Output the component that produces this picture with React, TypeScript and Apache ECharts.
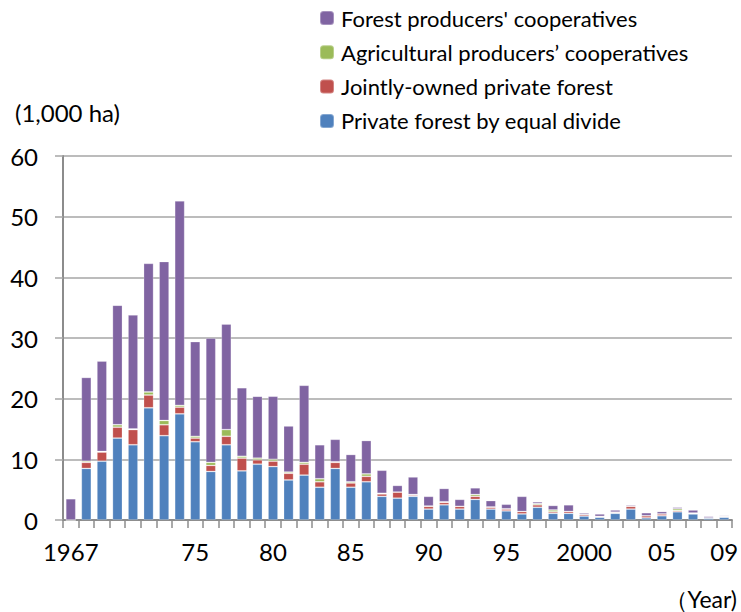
import React, { useEffect, useRef } from "react";
import * as echarts from "echarts";

const years = [
  "1967","1968","1969","1970","1971","1972","1973","1974","1975","1976",
  "1977","1978","1979","1980","1981","1982","1983","1984","1985","1986",
  "1987","1988","1989","1990","1991","1992","1993","1994","1995","1996",
  "1997","1998","1999","2000","2001","2002","2003","2004","2005","2006",
  "2007","2008","2009",
];

const labelYears = ["1967","1975","1980","1985","1990","1995","2000","2005","2009"];
const tickLabels = ["1967","75","80","85","90","95","2000","05","09"];

const privateEqual = [
  0, 8.5, 9.7, 13.5, 12.4, 18.5, 13.9, 17.5, 12.9, 8.0,
  12.4, 8.1, 9.2, 8.8, 6.6, 7.4, 5.4, 8.5, 5.4, 6.3,
  3.9, 3.6, 3.9, 1.8, 2.5, 1.8, 3.4, 1.8, 1.5, 1.0,
  2.1, 1.1, 1.1, 0.65, 0.45, 1.1, 1.8, 0.35, 0.7, 1.35,
  1.0, 0.3, 0.45,
];
const jointlyOwned = [
  0, 1.0, 1.5, 1.8, 2.5, 2.1, 1.8, 1.1, 0.6, 1.0,
  1.4, 2.1, 0.7, 0.9, 1.1, 1.8, 0.9, 1.0, 0.7, 0.9,
  0.4, 1.0, 0.2, 0.45, 0.4, 0.45, 0.5, 0.3, 0.3, 0.4,
  0.4, 0.25, 0.3, 0.25, 0.15, 0.15, 0.45, 0.35, 0.3, 0.2,
  0.1, 0.05, 0.15,
];
const agricultural = [
  0, 0.2, 0.1, 0.4, 0.1, 0.5, 0.7, 0.3, 0.3, 0.5,
  1.1, 0.3, 0.3, 0.3, 0.2, 0.3, 0.5, 0.1, 0.2, 0.4,
  0.1, 0, 0.1, 0.05, 0.1, 0, 0.3, 0.05, 0.05, 0,
  0.2, 0.3, 0, 0, 0, 0.05, 0.05, 0, 0, 0.3,
  0.05, 0, 0,
];
const forestCoops = [
  3.5, 13.8, 14.9, 19.7, 18.8, 21.2, 26.2, 33.7, 15.6, 20.5,
  17.4, 11.3, 10.2, 10.4, 7.6, 12.7, 5.6, 3.7, 4.5, 5.5,
  3.8, 1.1, 2.9, 1.6, 2.2, 1.15, 1.1, 1.05, 0.75, 2.5,
  0.3, 0.75, 1.1, 0.25, 0.4, 0.35, 0.2, 0.5, 0.4, 0.25,
  0.5, 0.25, 0.15,
];

const yTicks = [0, 10, 20, 30, 40, 50, 60];

const FONT = "Lato";

export default function App() {
  const ref = useRef<HTMLDivElement>(null);
  useEffect(() => {
    if (!ref.current) return;
    const chart = echarts.init(ref.current, null, { renderer: "svg" });
    const bar = (name: string, data: number[], color: string) => ({
      name,
      type: "bar",
      stack: "total",
      data,
      barWidth: "64%",
      itemStyle: { color, borderColor: "rgba(255,255,255,0.3)", borderWidth: 0.8 },
    });
    chart.setOption({
      animation: false,
      textStyle: { fontFamily: FONT },
      grid: { left: 63, right: 3, top: 156, bottom: 92 },
      legend: {
        orient: "vertical",
        left: 314,
        top: 2,
        itemWidth: 14,
        itemHeight: 14,
        itemGap: 12.3,
        data: [
          "Forest producers' cooperatives",
          "Agricultural producers’ cooperatives",
          "Jointly-owned private forest",
          "Private forest by equal divide",
        ],
        textStyle: { fontSize: 22, color: "#000", fontFamily: FONT, lineHeight: 22, padding: [0, 0, 0, 2] },
      },
      graphic: [
        {
          type: "text",
          left: 15,
          top: 100,
          style: { text: "(1,000 ha)", fontSize: 24, fill: "#000", fontFamily: FONT },
        },
        {
          type: "text",
          right: 4,
          top: 587,
          style: { text: "（Year)", fontSize: 23, fill: "#000", fontFamily: FONT },
        },
      ],
      xAxis: {
        type: "category",
        data: years,
        axisLine: { lineStyle: { color: "#8c8c8c", width: 2 } },
        axisTick: { show: true, interval: 0, length: 8, lineStyle: { color: "#8c8c8c", width: 1.5 } },
        axisLabel: {
          interval: (idx: number, val: string) => labelYears.includes(val),
          formatter: (val: string) => tickLabels[labelYears.indexOf(val)] ?? "",
          fontSize: 24,
          color: "#000",
          margin: 19,
          fontFamily: FONT,
        },
      },
      yAxis: {
        type: "value",
        min: yTicks[0],
        max: yTicks[yTicks.length - 1],
        interval: 10,
        axisLine: { show: true, lineStyle: { color: "#8c8c8c", width: 2 } },
        axisTick: { show: true, length: 8, lineStyle: { color: "#a6a6a6", width: 1.5 } },
        splitLine: { lineStyle: { color: "#a6a6a6", width: 1.5 } },
        axisLabel: { fontSize: 24, color: "#000", margin: 25, fontFamily: FONT },
      },
      series: [
        bar("Private forest by equal divide", privateEqual, "#4F81BD"),
        bar("Jointly-owned private forest", jointlyOwned, "#C0504D"),
        bar("Agricultural producers’ cooperatives", agricultural, "#9BBB59"),
        bar("Forest producers' cooperatives", forestCoops, "#8064A2"),
      ],
    });
    return () => chart.dispose();
  }, []);
  return <div ref={ref} style={{ width: 741, height: 612, position: "absolute", left: 0, top: 0 }} />;
}
